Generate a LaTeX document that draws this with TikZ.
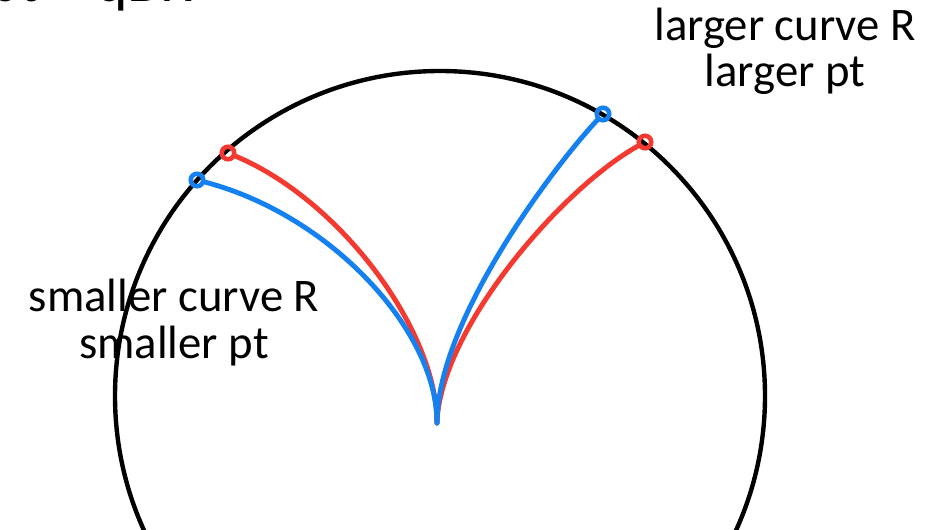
\documentclass[tikz,border=0pt]{standalone}
\usepackage{fontspec}
\setmainfont{Carlito}
\usepackage{tikz}
\usetikzlibrary{calc}
\definecolor{TrackRed}{HTML}{F23A30}
\definecolor{TrackBlue}{HTML}{1580F0}
\begin{document}
\begin{tikzpicture}[x=0.02cm, y=-0.02cm,
  every node/.style={font=\fontsize{26.6}{26.6}\selectfont, align=center, inner sep=0pt},
  track/.style={line width=2.8pt, line cap=round},
  ring/.style={circle, draw, line width=2.6pt, minimum size=0.25cm, inner sep=0pt}]
  \useasboundingbox (0,0) rectangle (940,530);
  \draw[line width=2.5pt] (440,396) circle[radius=325];
  \node[anchor=base west, font=\fontsize{34}{34}\selectfont] (title) at (-12,2) {pt = qBR};
  \coordinate (tip) at (437,423);
  \node[ring, TrackRed] (redL) at (228,153) {};
  \node[ring, TrackBlue] (blueL) at (197,180) {};
  \node[ring, TrackBlue] (blueR) at (603,114) {};
  \node[ring, TrackRed] (redR) at (645,142) {};
  \draw[track, TrackRed] (tip) .. controls (437,330) and (340,200) .. (redL);
  \draw[track, TrackRed] (tip) .. controls (440,330) and (560,190) .. (redR);
  \draw[track, TrackBlue] (tip) .. controls (437,330) and (330,215) .. (blueL);
  \draw[track, TrackBlue] (tip) .. controls (437,320) and (555,165) .. (blueR);
  \node[anchor=base] (bigR) at (785,87) {larger curve R\\larger pt};
  \node[anchor=base] (smallR) at (174,358) {smaller curve R\\smaller pt};
\end{tikzpicture}
\end{document}
